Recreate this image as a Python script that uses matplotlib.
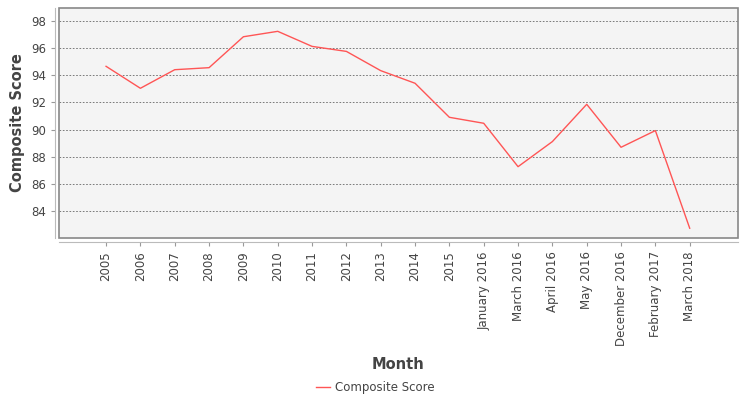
import numpy as np
import matplotlib.pyplot as plt
from matplotlib.patches import Rectangle

# composite score by period
months = ["2005", "2006", "2007", "2008", "2009", "2010", "2011", "2012", "2013",
          "2014", "2015", "January 2016", "March 2016", "April 2016", "May 2016",
          "December 2016", "February 2017", "March 2018"]
scores = [94.66, 93.04, 94.41, 94.56, 96.84, 97.24, 96.13, 95.76, 94.34,
          93.41, 90.90, 90.46, 87.26, 89.11, 91.86, 88.69, 89.92, 82.72]
yticks = [84, 86, 88, 90, 92, 94, 96, 98]

fig = plt.figure(figsize=(7.5, 4), dpi=100)
ax = fig.add_axes([0.0787, 0.405, 0.905, 0.575])
ax.set_facecolor("#f4f4f4")

x = np.arange(len(months))
line, = ax.plot(x, scores, color="#ff5555", lw=1, label="Composite Score")

ax.set_xlim(-1.37, len(months) - 1 + 1.4)
ax.set_ylim(82.0, 98.96)
ax.set_yticks(yticks)
ax.set_xticks(x)
ax.set_xticklabels(months)
ax.tick_params(axis="both", labelsize=8.5, labelcolor="#444444", color="#999999",
               length=3, width=0.8)
ax.tick_params(axis="x", labelrotation=90)
ax.grid(axis="y", color="#666666", linestyle=(0, (2, 2)), lw=0.6)
ax.set_axisbelow(True)

# plot outline plus offset axis lines
ax.add_patch(Rectangle((0, 0), 1, 1, transform=ax.transAxes, fill=False,
                       edgecolor="#888888", lw=1.2, clip_on=False, zorder=5))
for s in ["top", "right"]:
    ax.spines[s].set_visible(False)
for s in ["left", "bottom"]:
    ax.spines[s].set_position(("outward", 3))
    ax.spines[s].set_color("#bbbbbb")
    ax.spines[s].set_linewidth(0.8)

ax.set_ylabel("Composite Score", fontsize=10.5, fontweight="bold", color="#444444")
ax.set_xlabel("Month", fontsize=10.5, fontweight="bold", color="#444444", labelpad=8)

fig.legend(handles=[line], loc="center", bbox_to_anchor=(0.5, 0.032), frameon=False,
           fontsize=8.5, labelcolor="#444444", handlelength=1.2, handletextpad=0.4)

fig.savefig("out.png", dpi=100)
